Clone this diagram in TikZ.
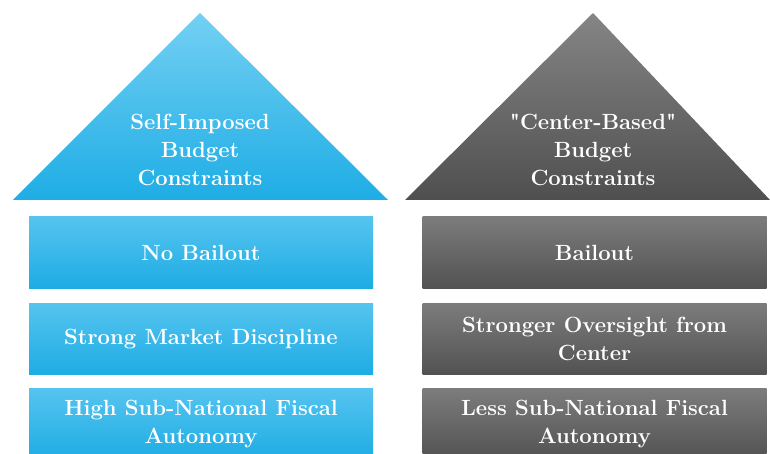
\documentclass[tikz,border=0pt]{standalone}
\usepackage{fontspec}
\usepackage{tikz}
\usetikzlibrary{positioning}

\definecolor{bluetop}{HTML}{74D0F3}
\definecolor{bluebot}{HTML}{1EADE5}
\definecolor{boxbluetop}{HTML}{55C4EF}
\definecolor{boxbluebot}{HTML}{1EACE4}
\definecolor{greytop}{HTML}{858585}
\definecolor{greybot}{HTML}{4F4F4F}
\definecolor{boxgreytop}{HTML}{7C7C7C}
\definecolor{boxgreybot}{HTML}{525252}

\begin{document}
\begin{tikzpicture}[
      x=1pt, y=-1pt,
      label/.style={
          text=white,
          font=\fontsize{22}{28}\selectfont\bfseries,
          align=center
        },
      item/.style={
          label,
          rectangle,
          minimum width=344pt,
          minimum height=71pt,
          inner sep=0pt
        },
      bluebox/.style={item, top color=boxbluetop, bottom color=boxbluebot},
      greybox/.style={item, top color=boxgreytop, bottom color=boxgreybot}
    ]
    \useasboundingbox (0,0) rectangle (770,454);

    % Roofs
    \coordinate (lapex) at (200,13);
    \coordinate (lleft) at (13,200);
    \coordinate (lright) at (388,200);
    \coordinate (rapex) at (593,13);
    \coordinate (rleft) at (405,200);
    \coordinate (rright) at (770,200);
    \shade[top color=bluetop, bottom color=bluebot] (lapex) -- (lright) -- (lleft) -- cycle;
    \shade[top color=greytop, bottom color=greybot] (rapex) -- (rright) -- (rleft) -- cycle;
    \node[label] at (200,150) (selfroof) {Self-Imposed\\Budget\\Constraints};
    \node[label] at (593,150) (centerroof) {\textquotedbl Center-Based\textquotedbl\\Budget\\Constraints};

    % Explicit positions
    \node[bluebox] at (201,252.5) (nobail)   {No Bailout};
    \node[bluebox] at (201,339)   (market)   {Strong Market Discipline};
    \node[bluebox] at (201,424)   (highaut)  {High Sub-National Fiscal\\Autonomy};
    \node[greybox] at (594.5,252.5) (bail)     {Bailout};
    \node[greybox] at (594.5,339)   (oversight) {Stronger Oversight from\\Center};
    \node[greybox] at (594.5,424)   (lessaut)  {Less Sub-National Fiscal\\Autonomy};
  \end{tikzpicture}
\end{document}
